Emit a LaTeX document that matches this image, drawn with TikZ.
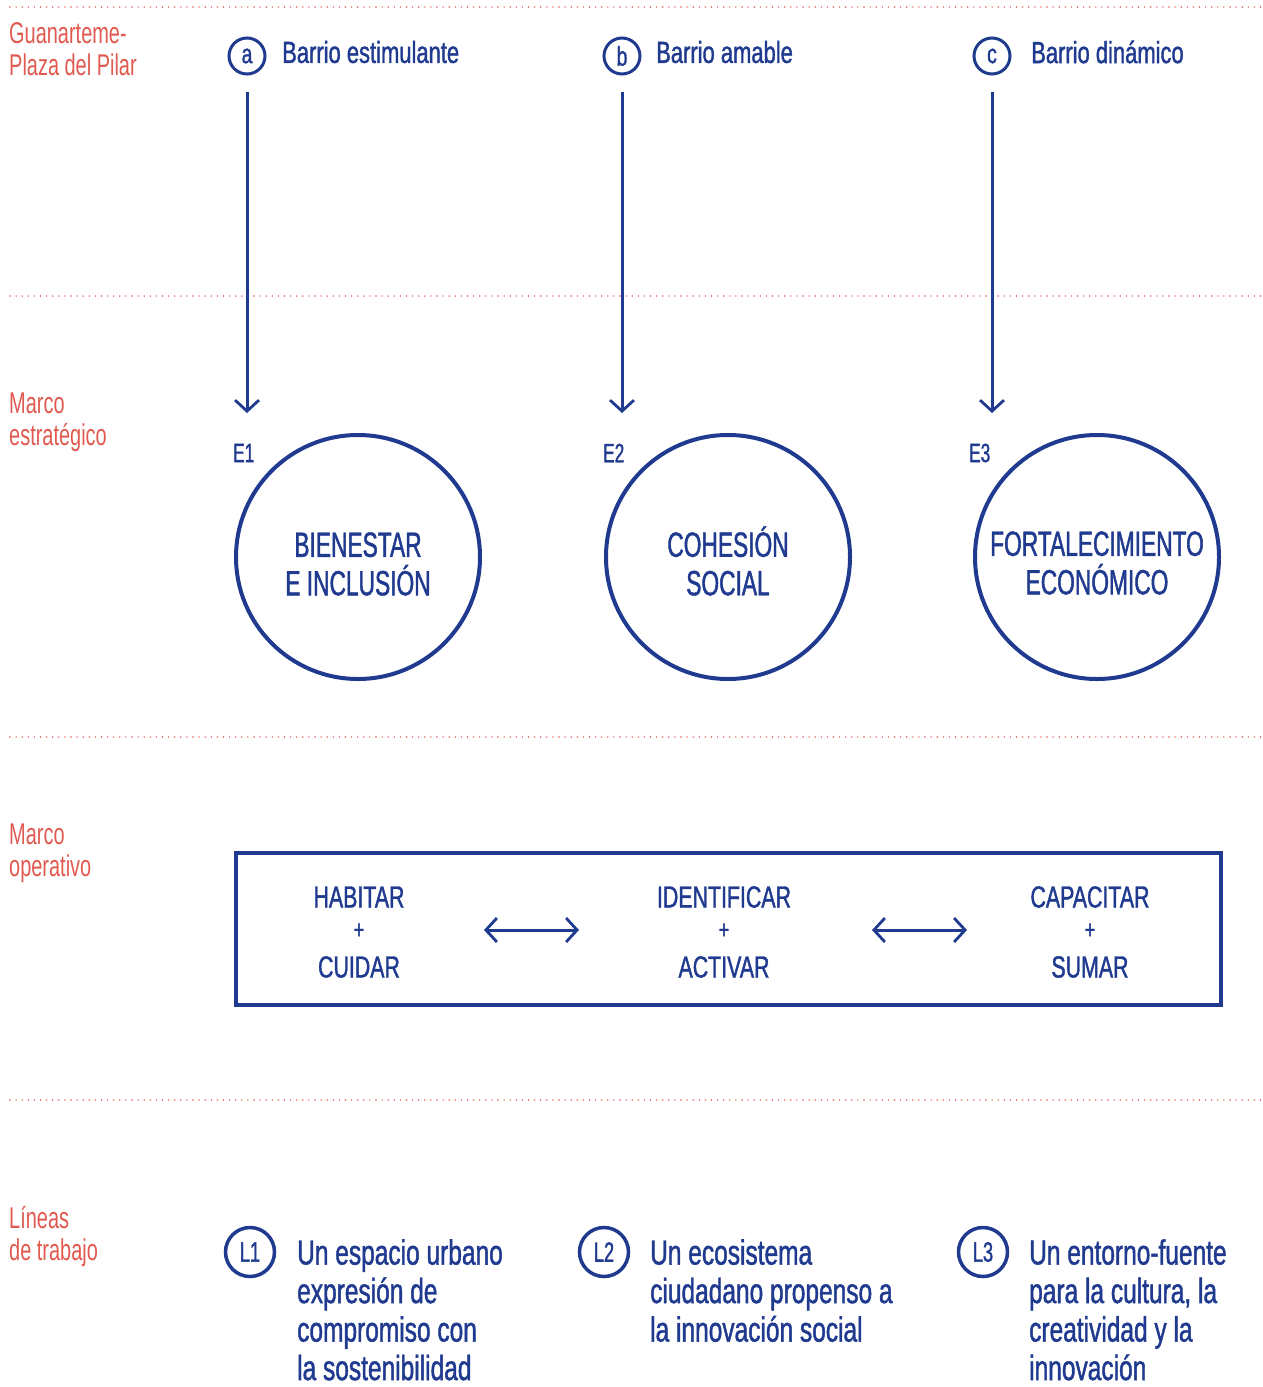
\documentclass[tikz,border=0pt]{standalone}
\usepackage{fontspec}
\setmainfont[FakeStretch=0.665]{Liberation Sans}
\newfontfamily\navyfont[FakeStretch=0.72,FakeBold=1.2]{Liberation Sans}
\newfontfamily\capsfont[FakeStretch=0.65,FakeBold=1.2]{Liberation Sans}
\newfontfamily\opfont[FakeStretch=0.70,FakeBold=1.2]{Liberation Sans}
\newfontfamily\linefont[FakeStretch=0.70,FakeBold=1.2]{Liberation Sans}
\usetikzlibrary{arrows.meta}
\definecolor{navy}{HTML}{1F3A8F}
\definecolor{coral}{HTML}{E05A50}
\begin{document}
\begin{tikzpicture}[x=1pt,y=-1pt,
  sep/.style={coral,line width=1.6pt,dash pattern=on 0pt off 6.1pt,line cap=round},
  seclabel/.style={coral,anchor=north west,inner sep=0pt,align=left,font=\fontsize{30}{32}\selectfont},
  smallcirc/.style={circle,draw=navy,line width=3pt,minimum size=36pt,inner sep=0pt,text=navy,font=\navyfont\fontsize{27}{27}\selectfont},
  lcirc/.style={circle,draw=navy,line width=3.5pt,minimum size=49pt,inner sep=0pt,text=navy,font=\capsfont\fontsize{28}{28}\selectfont},
  headtxt/.style={text=navy,anchor=west,inner sep=0pt,font=\navyfont\fontsize{30.5}{30.5}\selectfont},
  bigcirc/.style={circle,draw=navy,line width=4pt,minimum size=244pt,inner sep=0pt},
  circtxt/.style={text=navy,align=center,inner sep=0pt,font=\capsfont\fontsize{35}{38.5}\selectfont},
  elabel/.style={text=navy,anchor=west,inner sep=0pt,font=\capsfont\fontsize{26.5}{26.5}\selectfont},
  optxt/.style={text=navy,inner sep=0pt,font=\opfont\fontsize{30.5}{30.5}\selectfont},
  plus/.style={text=navy,inner sep=0pt,font=\opfont\fontsize{26}{26}\selectfont},
  linetxt/.style={text=navy,anchor=north west,inner sep=0pt,align=left,font=\linefont\fontsize{35}{38.5}\selectfont},
  downarrow/.style={navy,line width=3pt,-{Straight Barb[length=11pt,width=24pt,line width=2.8pt]}},
  bothway/.style={navy,line width=3pt,{Straight Barb[length=11pt,width=24pt,line width=2.8pt]}-{Straight Barb[length=11pt,width=24pt,line width=2.8pt]}}
]
\useasboundingbox (0,0) rectangle (1263,1387);
% separators
\coordinate (s1a) at (10,7);    \coordinate (s1b) at (1263,7);
\coordinate (s2a) at (10,296);  \coordinate (s2b) at (1263,296);
\coordinate (s3a) at (10,737);  \coordinate (s3b) at (1263,737);
\coordinate (s4a) at (10,1100); \coordinate (s4b) at (1263,1100);
\draw[sep] (s1a) -- (s1b);
\draw[sep] (s2a) -- (s2b);
\draw[sep] (s3a) -- (s3b);
\draw[sep] (s4a) -- (s4b);
% section labels
\node[seclabel] (lab1) at (9,22.5) {Guanarteme-\\Plaza del Pilar};
\node[seclabel] (lab2) at (9,393) {Marco\\estratégico};
\node[seclabel] (lab3) at (9,824) {Marco\\operativo};
\node[seclabel] (lab4) at (9,1206) {Líneas\\de trabajo};
% top circles
\node[smallcirc] (ca) at (247,56) {a};
\node[smallcirc] (cb) at (622,56) {b};
\node[smallcirc] (cc) at (992,56) {c};
\node[headtxt] (ha) at (282,52) {Barrio estimulante};
\node[headtxt] (hb) at (656,52) {Barrio amable};
\node[headtxt] (hc) at (1031,52) {Barrio dinámico};
% arrow ends
\coordinate (ta) at (247,92);  \coordinate (ea) at (247,413);
\coordinate (tb) at (622,92);  \coordinate (eb) at (622,413);
\coordinate (tc) at (992,92);  \coordinate (ec) at (992,413);
\draw[downarrow] (ta) -- (ea);
\draw[downarrow] (tb) -- (eb);
\draw[downarrow] (tc) -- (ec);
% E labels
\node[elabel] (e1) at (233,453) {E1};
\node[elabel] (e2) at (603,453) {E2};
\node[elabel] (e3) at (969,453) {E3};
% big circles
\node[bigcirc] (b1) at (358,557) {};
\node[bigcirc] (b2) at (728,557) {};
\node[bigcirc] (b3) at (1097,557) {};
\node[circtxt] (t1) at (358,564) {BIENESTAR\\E INCLUSIÓN};
\node[circtxt] (t2) at (728,561) {COHESIÓN\\SOCIAL};
\node[circtxt] (t3) at (1097,563) {FORTALECIMIENTO\\ECONÓMICO};
% operative box
\node[draw=navy,line width=4pt,minimum width=985pt,minimum height=152pt,inner sep=0pt] (box) at (728.5,929) {};
\node[optxt] (o1a) at (359,897) {HABITAR};
\node[plus]  (o1p) at (359,931) {+};
\node[optxt] (o1b) at (359,967) {CUIDAR};
\node[optxt] (o2a) at (724,897) {IDENTIFICAR};
\node[plus]  (o2p) at (724,931) {+};
\node[optxt] (o2b) at (724,967) {ACTIVAR};
\node[optxt] (o3a) at (1090,897) {CAPACITAR};
\node[plus]  (o3p) at (1090,931) {+};
\node[optxt] (o3b) at (1090,967) {SUMAR};
\coordinate (d1a) at (484,930); \coordinate (d1b) at (579,930);
\coordinate (d2a) at (872,930); \coordinate (d2b) at (967,930);
\draw[bothway] (d1a) -- (d1b);
\draw[bothway] (d2a) -- (d2b);
% lines of work
\node[lcirc] (l1) at (250,1252) {L1};
\node[lcirc] (l2) at (604,1252) {L2};
\node[lcirc] (l3) at (983,1252) {L3};
\node[linetxt] (lt1) at (297,1239) {Un espacio urbano\\expresión de\\compromiso con\\la sostenibilidad};
\node[linetxt] (lt2) at (650,1239) {Un ecosistema\\ciudadano propenso a\\la innovación social};
\node[linetxt] (lt3) at (1029,1239) {Un entorno-fuente\\para la cultura, la\\creatividad y la\\innovación};
\end{tikzpicture}
\end{document}
